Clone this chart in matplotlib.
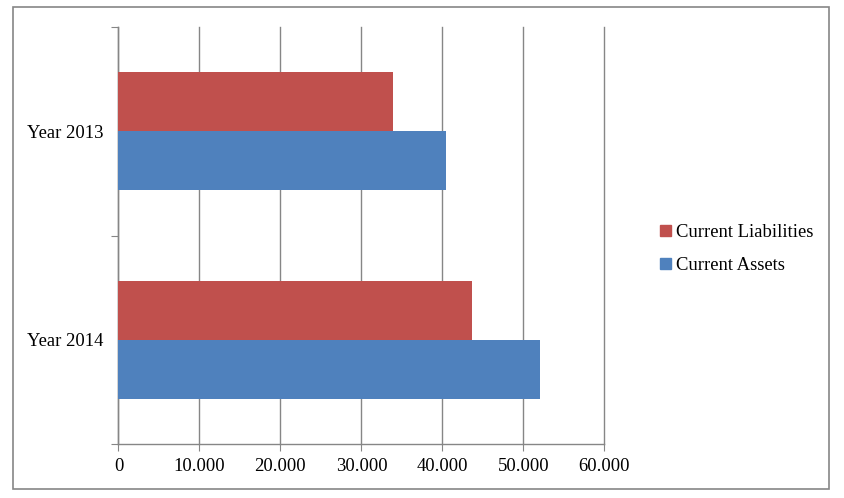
import matplotlib.pyplot as plt
from matplotlib.patches import Rectangle, Patch
import numpy as np

categories = ['Year 2014', 'Year 2013']
liabilities = [43670, 33900]
assets = [52060, 40500]
xticks = [0, 10000, 20000, 30000, 40000, 50000, 60000]
xlabels = ['0', '10.000', '20.000', '30.000', '40.000', '50.000', '60.000']

red = '#C0504D'
blue = '#4F81BD'
gray = '#868686'

plt.rcParams['font.family'] = 'Liberation Serif'
plt.rcParams['font.size'] = 13.4

fig = plt.figure(figsize=(8.44, 4.98), dpi=100)
ax = fig.add_axes([0.1404, 0.1084, 0.716 - 0.1404, 0.9458 - 0.1084])

y = np.arange(len(categories))
h = 0.283
ax.barh(y + h / 2, liabilities, height=h, color=red, label='Current Liabilities', zorder=3)
ax.barh(y - h / 2, assets, height=h, color=blue, label='Current Assets', zorder=3)

ax.set_xlim(0, 60000)
ax.set_ylim(-0.5, 1.5)
ax.set_xticks(xticks)
ax.set_xticklabels(xlabels)
ax.set_yticks([-0.5, 0.5, 1.5])
ax.set_yticklabels([])
ax.set_yticks(y, minor=True)
ax.set_yticklabels(categories, minor=True)
ax.tick_params(axis='y', which='minor', length=0, pad=11)
ax.tick_params(axis='y', which='major', length=5, color=gray, direction='out')
ax.tick_params(axis='x', length=5, color=gray, direction='out', pad=5)

ax.grid(axis='x', color=gray, linewidth=1, zorder=0)
for line in ax.get_xgridlines():
    line.set_clip_on(False)
for s in ['top', 'right']:
    ax.spines[s].set_visible(False)
for s in ['left', 'bottom']:
    ax.spines[s].set_color(gray)
    ax.spines[s].set_linewidth(1)

handles = [Patch(color=red), Patch(color=blue)]
ax.legend(handles, ['Current Liabilities', 'Current Assets'], loc='center left',
          bbox_to_anchor=(0.7625, 0.5), bbox_transform=fig.transFigure, frameon=False,
          handlelength=0.55, handleheight=0.55, handletextpad=0.3, labelspacing=0.85)

fig.patches.append(Rectangle((13 / 844, 1 - 489 / 498), 816 / 844, 482 / 498,
                             transform=fig.transFigure, fill=False, edgecolor=gray, linewidth=1.2))

fig.savefig('out.png', dpi=100)
